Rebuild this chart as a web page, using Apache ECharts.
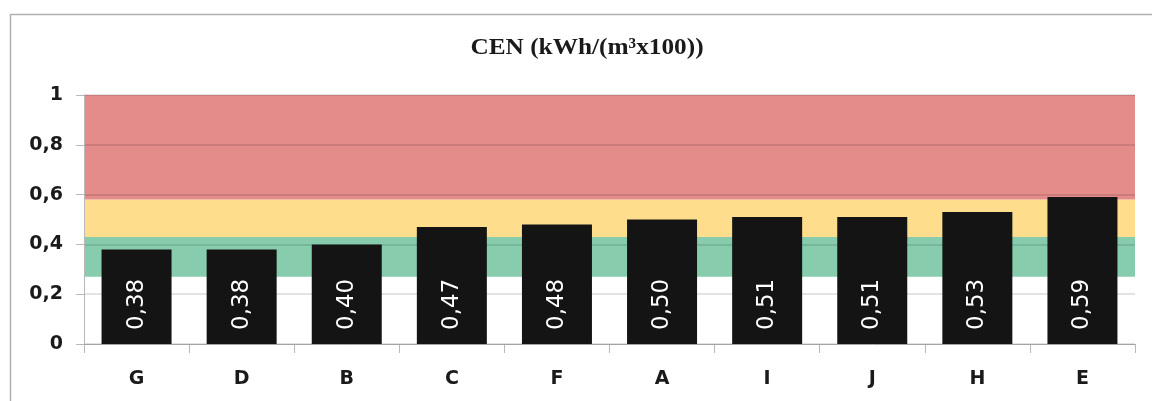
<!DOCTYPE html>
<html>
<head>
<meta charset="utf-8">
<script src="https://cdn.jsdelivr.net/npm/echarts@6/dist/echarts.min.js"></script>
<style>
  html, body { margin: 0; padding: 0; background: #ffffff; }
  #chart { width: 1152px; height: 401px; }
</style>
</head>
<body>
<div id="chart"></div>
<script>
// Sites ordered by consumption
const categories = ['G', 'D', 'B', 'C', 'F', 'A', 'I', 'J', 'H', 'E'];
const cenValues = [0.38, 0.38, 0.40, 0.47, 0.48, 0.50, 0.51, 0.51, 0.53, 0.59];
// Reference bands: [from, to]
const greenBand = [0.27, 0.43];
const yellowBand = [0.43, 0.58];
const redBand = [0.58, 1];
const yTicks = { min: 0, max: 1, interval: 0.2 };
const chartTitle = 'CEN (kWh/(m³x100))';

const chart = echarts.init(document.getElementById('chart'), null, { renderer: 'canvas' });

const fmt = v => String(v).replace('.', ',');

chart.setOption({
  backgroundColor: '#ffffff',
  animation: false,
  graphic: [
    {
      type: 'rect',
      shape: { x: 10.5, y: 14.5, width: 1160, height: 400 },
      style: { fill: 'none', stroke: '#b0b0b0', lineWidth: 1.5 },
      z: 0
    },
    {
      type: 'text',
      x: 587,
      y: 48,
      scaleX: 1.1,
      style: {
        text: chartTitle,
        textAlign: 'center',
        textVerticalAlign: 'middle',
        fontFamily: 'Liberation Serif',
        fontWeight: 'bold',
        fontSize: 23,
        fill: '#1a1a1a'
      },
      z: 10
    }
  ],
  grid: { left: 84, right: 17, top: 95, bottom: 57 },
  xAxis: {
    type: 'category',
    data: categories,
    axisLine: { lineStyle: { color: '#b8b8b8', width: 1 } },
    axisTick: { show: true, length: 9, lineStyle: { color: '#b8b8b8' } },
    axisLabel: {
      margin: 26,
      fontFamily: 'DejaVu Sans',
      fontWeight: 'bold',
      fontSize: 19,
      color: '#1a1a1a'
    }
  },
  yAxis: {
    type: 'value',
    min: yTicks.min,
    max: yTicks.max,
    interval: yTicks.interval,
    z: 3,
    axisLine: { show: true, lineStyle: { color: '#b8b8b8' } },
    axisTick: { show: true, length: 8, lineStyle: { color: '#b8b8b8' } },
    splitLine: { show: true, lineStyle: { color: 'rgba(0,0,0,0.15)', width: 1.5 } },
    axisLabel: {
      margin: 21,
      formatter: v => fmt(v),
      fontFamily: 'DejaVu Sans',
      fontWeight: 'bold',
      fontSize: 19,
      color: '#1a1a1a'
    }
  },
  series: [
    {
      // background bands
      type: 'bar',
      data: [],
      z: 1,
      silent: true,
      markArea: {
        silent: true,
        label: { show: false },
        itemStyle: { opacity: 1 },
        data: [
          [{ yAxis: greenBand[0], itemStyle: { color: '#87cdad' } }, { yAxis: greenBand[1] }],
          [{ yAxis: yellowBand[0], itemStyle: { color: '#fedd8d' } }, { yAxis: yellowBand[1] }],
          [{ yAxis: redBand[0], itemStyle: { color: '#e38c89' } }, { yAxis: redBand[1] }]
        ]
      }
    },
    {
      type: 'bar',
      data: cenValues,
      z: 4,
      barWidth: 70,
      barGap: '-100%',
      itemStyle: { color: '#141414' },
      label: {
        show: true,
        position: 'insideBottom',
        distance: 14,
        rotate: 90,
        align: 'left',
        verticalAlign: 'middle',
        formatter: p => fmt(p.value.toFixed(2)),
        fontFamily: 'DejaVu Sans',
        fontSize: 23,
        color: '#ffffff'
      }
    }
  ]
});
</script>
</body>
</html>
